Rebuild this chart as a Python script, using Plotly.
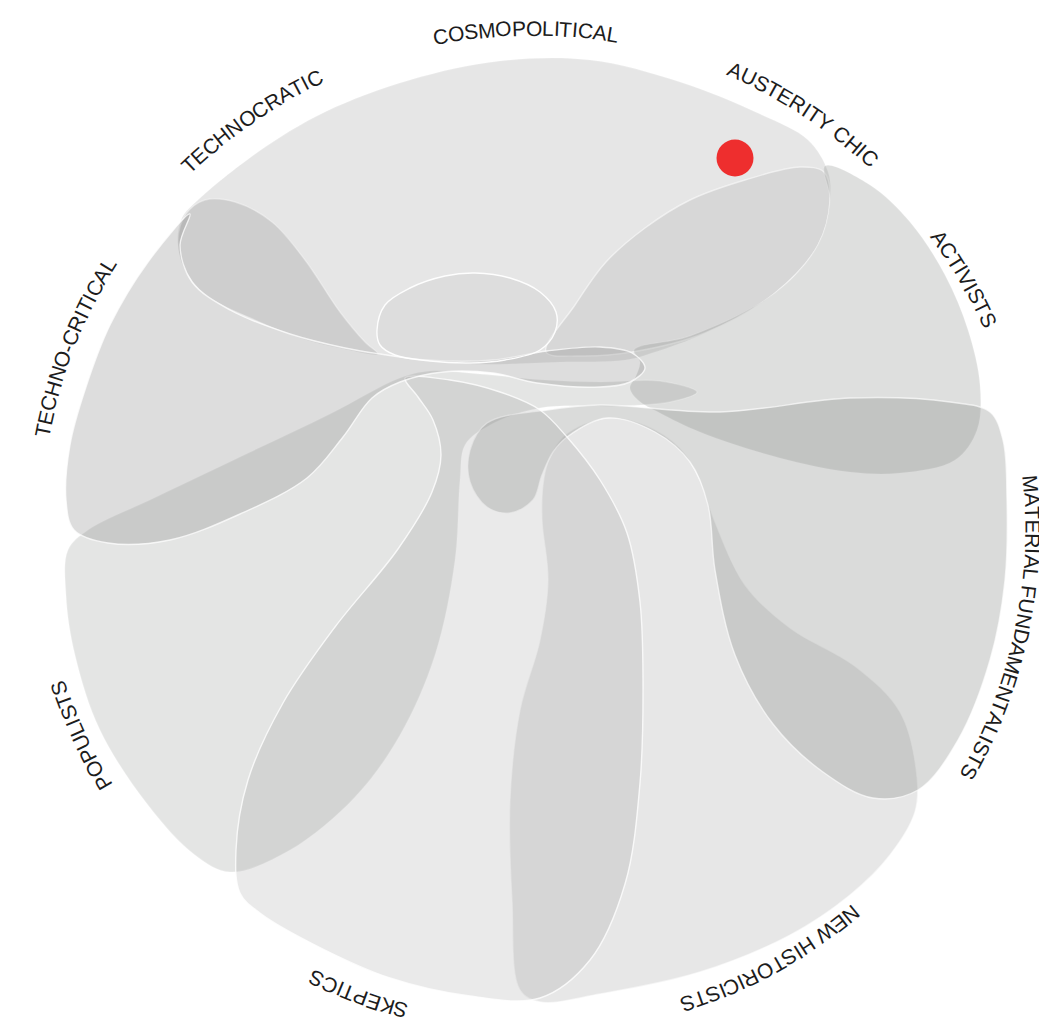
import math
import plotly.graph_objects as go

# ---------------- data: petal outlines (image pixel space) ----------------
cosmopolitical_x = [378, 345, 290, 230, 192, 178, 182, 198, 258, 325, 410, 500, 590, 680, 760, 808, 828, 830, 818, 775, 705, 655, 625, 560, 470]
cosmopolitical_y = [354, 348, 334, 310, 282, 245, 218, 200, 152, 112, 80, 61, 60, 82, 114, 140, 172, 200, 245, 293, 333, 352, 360, 362, 364]

technocratic_x = [378, 340, 300, 250, 205, 184, 178, 186, 205, 235, 272, 305, 340, 365]
technocratic_y = [354, 348, 338, 318, 295, 268, 240, 214, 200, 202, 222, 260, 312, 342]

austerity_x = [546, 575, 606, 645, 690, 745, 800, 824, 830, 818, 775, 705, 632, 580]
austerity_y = [352, 305, 262, 228, 200, 180, 167, 172, 200, 245, 293, 333, 352, 356]

activists_x = [825, 870, 910, 945, 968, 980, 977, 955, 900, 850, 780, 700, 660, 638, 630, 636, 640, 634, 690, 775, 818, 830]
activists_y = [166, 185, 222, 275, 330, 385, 430, 460, 473, 472, 458, 432, 413, 400, 388, 376, 362, 350, 336, 293, 245, 200]

technocritical_x = [190, 180, 192, 230, 290, 345, 380, 427, 493, 547, 600, 632, 645, 630, 600, 537, 493, 443, 400, 372, 343, 307, 240, 170, 108, 74, 66, 70, 85, 110, 148]
technocritical_y = [214, 245, 282, 310, 334, 348, 354, 360, 360, 351, 347, 353, 368, 382, 387, 383, 373, 372, 382, 398, 437, 478, 514, 540, 543, 530, 500, 445, 390, 325, 262]

populists_x = [697, 660, 600, 545, 480, 430, 400, 330, 240, 150, 88, 68, 66, 75, 100, 148, 195, 230, 290, 355, 400, 435, 455, 460, 465, 490, 540, 620, 670]
populists_y = [392, 381, 382, 380, 374, 371, 378, 414, 457, 500, 530, 550, 595, 655, 730, 805, 855, 872, 850, 797, 735, 655, 560, 480, 445, 425, 408, 406, 402]

historicists_x = [548, 565, 607, 645, 680, 700, 715, 745, 790, 856, 900, 917, 915, 890, 850, 790, 700, 600, 540, 520, 512, 510, 520, 540, 548, 542, 543]
historicists_y = [462, 435, 418, 425, 448, 480, 522, 585, 628, 667, 712, 777, 812, 855, 895, 935, 972, 994, 1002, 990, 900, 800, 710, 640, 580, 520, 485]

material_x = [487, 547, 600, 720, 850, 950, 990, 1003, 1007, 1005, 990, 958, 918, 873, 823, 773, 735, 715, 708, 690, 655, 607, 567, 553, 542, 533, 510, 487, 470, 470]
material_y = [423, 410, 405, 412, 398, 402, 412, 440, 500, 580, 660, 740, 790, 798, 772, 724, 655, 570, 505, 462, 432, 418, 437, 452, 475, 500, 513, 507, 482, 450]

skeptics_x = [405, 450, 500, 540, 567, 600, 627, 640, 643, 640, 625, 590, 540, 470, 390, 315, 260, 240, 236, 248, 283, 335, 398, 432, 441, 433, 418]
skeptics_y = [378, 380, 392, 410, 437, 480, 533, 602, 680, 783, 884, 960, 998, 996, 978, 945, 913, 893, 850, 780, 703, 627, 549, 492, 455, 420, 397]

core_x = [377, 385, 410, 445, 475, 510, 540, 556, 555, 540, 505, 470, 430, 395, 380]
core_y = [330, 305, 288, 276, 273, 278, 292, 312, 332, 350, 360, 363, 361, 355, 345]

marker_x = [735]
marker_y = [158]

labels = ["COSMOPOLITICAL", "AUSTERITY CHIC", "ACTIVISTS", "MATERIAL FUNDAMENTALISTS",
          "NEW HISTORICISTS", "SKEPTICS", "POPULISTS", "TECHNO-CRITICAL", "TECHNOCRATIC"]
label_angles = [-0.85, 33.1, 60.0, 102.0, 151.2, 200.5, 245.4, 291.5, 325.4]

# ---------------- styling ----------------
W, H = 1047, 1034
OFF = 8  # default body margin of the html page
CX, CY, R_TEXT = 533, 528, 500
FS = 21

petals = [
    (cosmopolitical_x, cosmopolitical_y, 0.20, 0.15),
    (technocratic_x, technocratic_y, 0.23, 0.35),
    (austerity_x, austerity_y, 0.14, 0.55),
    (activists_x, activists_y, 0.26, 0.15),
    (populists_x, populists_y, 0.21, 0.20),
    (historicists_x, historicists_y, 0.19, 0.55),
    (material_x, material_y, 0.29, 0.65),
    (skeptics_x, skeptics_y, 0.17, 0.80),
    (technocritical_x, technocritical_y, 0.27, 0.75),
    (core_x, core_y, 0.09, 0.95),
]

fig = go.Figure()
for xs, ys, alpha, lalpha in petals:
    fig.add_trace(go.Scatter(
        x=list(xs) + [xs[0]], y=list(ys) + [ys[0]],
        mode="lines", fill="toself",
        fillcolor=f"rgba(128,130,129,{alpha})",
        line=dict(color=f"rgba(255,255,255,{lalpha})", width=1.4, shape="spline", smoothing=1.0),
        hoverinfo="skip", showlegend=False,
    ))

fig.add_trace(go.Scatter(
    x=marker_x, y=marker_y, mode="markers",
    marker=dict(size=37, color="#ee2e2e", line=dict(width=0)),
    hoverinfo="skip", showlegend=False,
))

# Arial / Liberation Sans advance widths (em)
CW = {"A": .667, "B": .667, "C": .722, "D": .722, "E": .667, "F": .611, "G": .778, "H": .722,
      "I": .278, "J": .5, "K": .667, "L": .556, "M": .833, "N": .722, "O": .778, "P": .667,
      "Q": .778, "R": .722, "S": .667, "T": .611, "U": .722, "V": .667, "W": .944, "X": .667,
      "Y": .667, "Z": .611, " ": .278, "-": .333}

annotations = []
for text, ang in zip(labels, label_angles):
    widths = [CW.get(ch, .6) * FS for ch in text]
    total = sum(widths)
    pos = math.radians(ang) - total / (2 * R_TEXT)
    for ch, w in zip(text, widths):
        phi = pos + (w / 2) / R_TEXT
        pos += w / R_TEXT
        if ch == " ":
            continue
        x = CX + R_TEXT * math.sin(phi)
        y = CY - R_TEXT * math.cos(phi)
        deg = math.degrees(phi)
        deg = (deg + 180) % 360 - 180
        annotations.append(dict(
            x=x, y=y, xref="x", yref="y", text=ch, showarrow=False,
            textangle=deg, xanchor="center", yanchor="middle",
            font=dict(family="Liberation Sans, Arial, sans-serif", size=FS, color="#1c1c1c"),
            borderpad=0,
        ))

fig.update_layout(
    width=W - OFF, height=H - 2 * OFF,
    margin=dict(l=0, r=0, t=0, b=0),
    paper_bgcolor="white", plot_bgcolor="white",
    xaxis=dict(range=[OFF, W], visible=False, fixedrange=True),
    yaxis=dict(range=[H - OFF, OFF], visible=False, fixedrange=True),
    annotations=annotations,
    showlegend=False,
)

fig.write_html("out.html", config={"displayModeBar": False})
